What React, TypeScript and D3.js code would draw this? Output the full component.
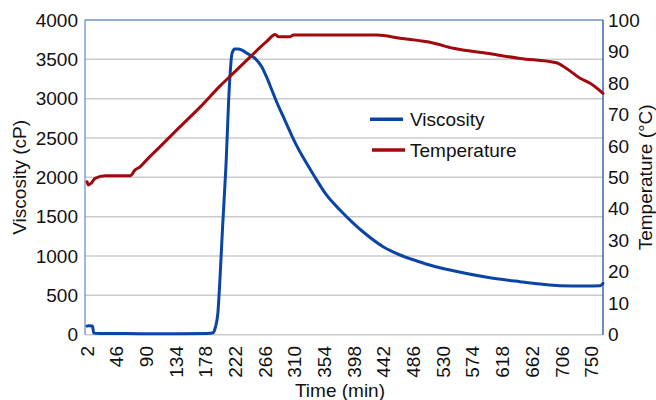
import React from "react";
import * as d3 from "d3";

const visMinutes = [2, 4, 10, 12, 20, 60, 100, 140, 180, 189, 192, 196, 199, 203, 208, 213, 217, 221, 226, 231, 239, 251, 261, 268, 276, 283, 293, 303, 313, 323, 338, 357, 377, 397, 417, 441, 466, 491, 515, 540, 595, 644, 674, 703, 740, 763, 767];
const visValues = [110, 115, 110, 20, 15, 15, 12, 12, 15, 25, 85, 275, 695, 1370, 2150, 3152, 3577, 3631, 3630, 3620, 3577, 3513, 3406, 3279, 3110, 2961, 2771, 2580, 2400, 2245, 2030, 1776, 1585, 1416, 1267, 1118, 1013, 937, 873, 822, 730, 674, 644, 623, 620, 623, 653];

const tempMinutes = [2, 4, 8, 14, 29, 66, 73, 81, 88, 110, 140, 170, 199, 219, 244, 268, 281, 286, 303, 308, 432, 466, 515, 545, 595, 644, 698, 713, 733, 748, 767];
const tempValues = [48.6, 47.6, 48.1, 49.7, 50.5, 50.5, 52.3, 53.4, 55, 59.7, 66.1, 72.4, 79.0, 83.1, 88.3, 93.1, 95.4, 94.7, 94.7, 95.2, 95.2, 94.2, 92.7, 91.0, 89.4, 87.8, 86.4, 84.6, 81.5, 79.9, 76.7];

const xTickLabels = [2, 46, 90, 134, 178, 222, 266, 310, 354, 398, 442, 486, 530, 574, 618, 662, 706, 750];
const leftTicks = [0, 500, 1000, 1500, 2000, 2500, 3000, 3500, 4000];
const rightTicks = [0, 10, 20, 30, 40, 50, 60, 70, 80, 90, 100];

const seriesNames = ["Viscosity", "Temperature"];
const seriesColors = ["#0a45a6", "#a00a0c"];

export default function App() {
  const W = 656, H = 400;
  const left = 85, right = 603, top = 20, bottom = 334.7;
  const font = "'Liberation Sans', Arial, Helvetica, sans-serif";
  const fs = 19;

  const x = d3.scaleLinear().domain([-1, 767]).range([left, right]);
  const yL = d3.scaleLinear().domain([0, 4000]).range([bottom, top]);
  const yR = d3.scaleLinear().domain([0, 100]).range([bottom, top]);

  const visData = visMinutes.map((m, i) => [m, visValues[i]] as [number, number]);
  const tempData = tempMinutes.map((m, i) => [m, tempValues[i]] as [number, number]);

  const visLine = d3.line<[number, number]>().x(d => x(d[0])).y(d => yL(d[1])).curve(d3.curveMonotoneX);
  const tempLine = d3.line<[number, number]>().x(d => x(d[0])).y(d => yR(d[1])).curve(d3.curveMonotoneX);

  const legendY = [119.3, 150];

  return (
    <svg width={W} height={H} style={{ position: "absolute", left: 0, top: 0, display: "block", background: "#fff" }} fontFamily={font}>
      {leftTicks.map(t => (
        <line key={"g" + t} x1={left} x2={right} y1={yL(t)} y2={yL(t)} stroke="#cbcbcb" strokeWidth={1.5} />
      ))}
      <line x1={left} x2={right} y1={top} y2={top} stroke="#4f7ec9" strokeWidth={1.2} />
      <line x1={left} x2={left} y1={top} y2={bottom} stroke="#5d88cf" strokeWidth={1.2} />
      <line x1={right} x2={right} y1={top} y2={bottom} stroke="#2a5cb5" strokeWidth={1.4} />

      <path d={visLine(visData) || ""} fill="none" stroke={seriesColors[0]} strokeWidth={3} strokeLinejoin="round" strokeLinecap="round" />
      <path d={tempLine(tempData) || ""} fill="none" stroke={seriesColors[1]} strokeWidth={3} strokeLinejoin="round" strokeLinecap="round" />

      {leftTicks.map(t => (
        <text key={"l" + t} x={78} y={yL(t)} dy="0.35em" textAnchor="end" fontSize={fs} fill="#111">{t}</text>
      ))}
      {rightTicks.map(t => (
        <text key={"r" + t} x={608} y={yR(t)} dy="0.35em" textAnchor="start" fontSize={fs} fill="#111">{t}</text>
      ))}
      {xTickLabels.map(t => (
        <text key={"x" + t} transform={`translate(${x(t)},346) rotate(-90)`} dy="0.35em" textAnchor="end" fontSize={fs} fill="#111">{t}</text>
      ))}

      <text transform={`translate(19,${(top + bottom) / 2}) rotate(-90)`} dy="0.35em" textAnchor="middle" fontSize={fs} fill="#111">Viscosity (cP)</text>
      <text transform={`translate(645,${(top + bottom) / 2}) rotate(-90)`} dy="0.35em" textAnchor="middle" fontSize={fs} fill="#111">Temperature (°C)</text>
      <text x={340} y={397} textAnchor="middle" fontSize={fs} fill="#111">Time (min)</text>

      {seriesNames.map((n, i) => (
        <g key={n}>
          <line x1={370 + i * 2} x2={403 + i * 2} y1={legendY[i]} y2={legendY[i]} stroke={seriesColors[i]} strokeWidth={3.5} />
          <text x={410} y={legendY[i]} dy="0.35em" fontSize={fs} fill="#111">{n}</text>
        </g>
      ))}
    </svg>
  );
}
